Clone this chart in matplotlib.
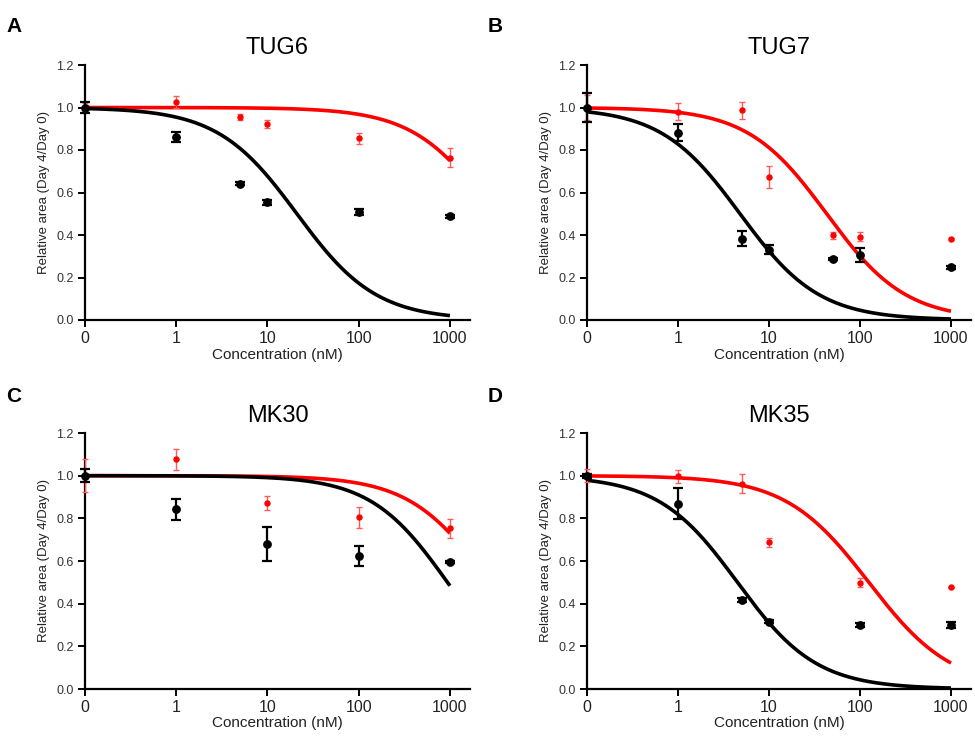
import numpy as np
import matplotlib
matplotlib.use("Agg")
import matplotlib.pyplot as plt

plt.rcParams['font.family'] = ['Liberation Sans', 'DejaVu Sans']

# x positions (nM); 0 is drawn at the left edge of the log axis
ZERO_POS = 0.1
tick_values = [0, 1, 10, 100, 1000]
tick_labels = ["0", "1", "10", "100", "1000"]

titles = ["TUG6", "TUG7", "MK30", "MK35"]
panel_letters = ["A", "B", "C", "D"]

# ---- data: concentrations, means, errors ----
# TUG6
tug6_black_x = [0, 1, 5, 10, 100, 1000]
tug6_black_y = [1.0, 0.862, 0.642, 0.555, 0.509, 0.488]
tug6_black_e = [0.025, 0.025, 0.006, 0.012, 0.015, 0.006]
tug6_red_x = [0, 1, 5, 10, 100, 1000]
tug6_red_y = [1.0, 1.027, 0.956, 0.922, 0.855, 0.764]
tug6_red_e = [0.02, 0.028, 0.015, 0.02, 0.025, 0.045]

# TUG7
tug7_black_x = [0, 1, 5, 10, 50, 100, 1000]
tug7_black_y = [1.0, 0.881, 0.383, 0.331, 0.288, 0.306, 0.248]
tug7_black_e = [0.068, 0.04, 0.035, 0.02, 0.005, 0.033, 0.006]
tug7_red_x = [0, 1, 5, 10, 50, 100, 1000]
tug7_red_y = [1.0, 0.98, 0.988, 0.672, 0.398, 0.392, 0.38]
tug7_red_e = [0.06, 0.04, 0.04, 0.052, 0.015, 0.02, 0.004]

# MK30
mk30_black_x = [0, 1, 10, 100, 1000]
mk30_black_y = [1.0, 0.842, 0.681, 0.624, 0.596]
mk30_black_e = [0.03, 0.048, 0.079, 0.048, 0.006]
mk30_red_x = [0, 1, 10, 100, 1000]
mk30_red_y = [1.0, 1.077, 0.872, 0.804, 0.754]
mk30_red_e = [0.077, 0.05, 0.035, 0.05, 0.045]

# MK35
mk35_black_x = [0, 1, 5, 10, 100, 1000]
mk35_black_y = [1.0, 0.869, 0.418, 0.316, 0.299, 0.299]
mk35_black_e = [0.01, 0.074, 0.01, 0.006, 0.01, 0.015]
mk35_red_x = [0, 1, 5, 10, 100, 1000]
mk35_red_y = [1.0, 0.997, 0.962, 0.687, 0.499, 0.476]
mk35_red_e = [0.03, 0.03, 0.045, 0.02, 0.02, 0.004]

# fitted 4-parameter logistic curves: (top, bottom, IC50 nM, hill)
fit_black = [(1.0, 0.0, 21.0, 1.0), (1.0, 0.0, 4.8, 1.0),
             (1.0, 0.0, 940.0, 1.03), (1.0, 0.0, 4.5, 1.0)]
fit_red = [(1.0, 0.0, 3000.0, 1.0), (1.0, 0.0, 43.0, 1.0),
           (1.0, 0.0, 2700.0, 1.0), (1.0, 0.0, 125.0, 0.95)]

black_sets = [(tug6_black_x, tug6_black_y, tug6_black_e),
              (tug7_black_x, tug7_black_y, tug7_black_e),
              (mk30_black_x, mk30_black_y, mk30_black_e),
              (mk35_black_x, mk35_black_y, mk35_black_e)]
red_sets = [(tug6_red_x, tug6_red_y, tug6_red_e),
            (tug7_red_x, tug7_red_y, tug7_red_e),
            (mk30_red_x, mk30_red_y, mk30_red_e),
            (mk35_red_x, mk35_red_y, mk35_red_e)]

RED = "#ff0000"
RED_ERR = "#ff5a5a"

def pos(xs):
    return [ZERO_POS if v == 0 else v for v in xs]

def logistic(x, p):
    top, bot, ic, h = p
    return bot + (top - bot) / (1 + (x / ic) ** h)

fig = plt.figure(figsize=(9.75, 7.49), dpi=100)
W, H = 975, 749
boxes = [(85, 470, 65, 320), (587, 971, 65, 320),
         (85, 470, 433, 689), (587, 971, 433, 689)]

for i in range(4):
    l, r, t, b = boxes[i]
    ax = fig.add_axes([l / W, 1 - b / H, (r - l) / W, (b - t) / H])
    ax.set_xscale("log")
    xmax = 10 ** 3.22
    xs = np.logspace(-1, 3, 400)
    ax.plot(xs, logistic(xs, fit_red[i]), color=RED, lw=2.6, zorder=3,
            solid_capstyle="butt")
    ax.plot(xs, logistic(xs, fit_black[i]), color="black", lw=2.6, zorder=3,
            solid_capstyle="butt")
    rx, ry, re = red_sets[i]
    ax.errorbar(pos(rx), ry, yerr=re, fmt="o", color=RED, ecolor=RED_ERR,
                ms=3.6, elinewidth=1.0, capsize=2.5, capthick=1.0, zorder=4)
    bx, by, be = black_sets[i]
    ax.errorbar(pos(bx), by, yerr=be, fmt="o", color="black", ecolor="black",
                ms=5.3, elinewidth=1.6, capsize=3.5, capthick=1.6, zorder=5)

    ax.set_xlim(ZERO_POS, xmax)
    ax.set_ylim(0, 1.2)
    ax.set_xticks(pos(tick_values))
    ax.set_xticklabels(tick_labels, fontsize=11.5)
    ax.xaxis.set_minor_locator(matplotlib.ticker.NullLocator())
    ax.set_yticks(np.arange(0, 1.21, 0.2))
    ax.set_yticklabels([f"{v:.1f}" for v in np.arange(0, 1.21, 0.2)],
                       fontsize=9, color="#333333")
    for s in ["top", "right"]:
        ax.spines[s].set_visible(False)
    for s in ["left", "bottom"]:
        ax.spines[s].set_linewidth(1.6)
    ax.tick_params(axis="both", which="major", length=5, width=1.4,
                   direction="out", pad=3)
    ax.tick_params(axis="x", colors="black", labelcolor="#222222")
    ax.tick_params(axis="y", labelcolor="#333333")
    ax.set_xlabel("Concentration (nM)", fontsize=11, labelpad=1, color="#222222")
    ax.set_ylabel("Relative area (Day 4/Day 0)", fontsize=9.5, labelpad=5,
                  color="#222222")
    ax.set_title(titles[i], fontsize=17, pad=8)
    for art in ax.get_children():
        if hasattr(art, "set_clip_on"):
            art.set_clip_on(False)
    # panel letter
    lx = 6 if i % 2 == 0 else 488
    ly = 26 if i < 2 else 396
    fig.text(lx / W, 1 - ly / H, panel_letters[i], fontsize=15,
             fontweight="bold", va="center", ha="left")

fig.savefig("out.png", dpi=100, facecolor="white")
